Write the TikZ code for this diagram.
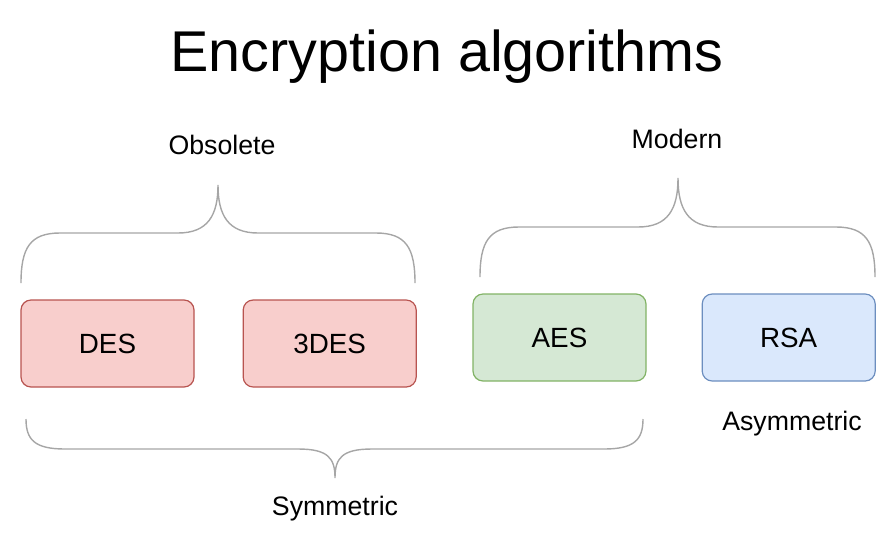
\documentclass[tikz,border=0pt]{standalone}
\usepackage{fontspec}
\setmainfont{Liberation Sans}
\usepackage{tikz}
\usetikzlibrary{positioning}

\definecolor{redfill}{HTML}{F8CECC}
\definecolor{reddraw}{HTML}{B85450}
\definecolor{greenfill}{HTML}{D5E8D4}
\definecolor{greendraw}{HTML}{82B366}
\definecolor{bluefill}{HTML}{DAE8FC}
\definecolor{bluedraw}{HTML}{6C8EBF}
\definecolor{bracegray}{HTML}{A6A6A6}

\begin{document}
\begin{tikzpicture}[x=1pt,y=-1pt]
  \tikzset{algo box/.style={draw=#1draw,fill=#1fill,line width=1.2pt,rounded corners=10pt,
      minimum width=173pt,minimum height=87pt,inner sep=0pt,font=\fontsize{27.8}{33}\selectfont},
    group label/.style={anchor=base,inner sep=0pt,font=\fontsize{26.7}{32}\selectfont},
    curly/.style={draw=bracegray,line width=1.4pt}}

  \useasboundingbox (0,0) rectangle (893,539);

  \node (title) [anchor=base,inner sep=0pt,font=\fontsize{57.5}{68}\selectfont] at (447,71) {Encryption algorithms};

  \node (DES) [algo box=red] at (107.5,343.5) {DES};
  \node (TDES) [algo box=red, right=48pt of DES] {3DES};
  \node (AES) [algo box=green] at (559.5,337.5) {AES};
  \node (RSA) [algo box=blue, right=55pt of AES] {RSA};

  % braces
  \draw[curly] (21,283) .. controls (21,248) and (30,233) .. (60,233) -- (178,233)
    .. controls (208,233) and (218,215) .. (218,185) .. controls (218,215) and (228,233) .. (258,233)
    -- (376,233) .. controls (406,233) and (415,248) .. (415,283);
  \draw[curly] (480,277) .. controls (480,242) and (489,227) .. (519,227) -- (638,227)
    .. controls (668,227) and (678,209) .. (678,178) .. controls (678,209) and (688,227) .. (718,227)
    -- (836,227) .. controls (866,227) and (875,242) .. (875,277);
  \draw[curly] (26,419) .. controls (26,440) and (35,449) .. (65,449) -- (298,449)
    .. controls (328,449) and (335,458) .. (335,478) .. controls (335,458) and (342,449) .. (372,449)
    -- (604,449) .. controls (634,449) and (643,440) .. (643,419);

  \node (obsolete) [group label] at (222,154) {Obsolete};
  \node (modern) [group label] at (677,148) {Modern};
  \node (symmetric) [group label] at (335,515) {Symmetric};
  \node (asymmetric) [group label] at (792,430) {Asymmetric};
\end{tikzpicture}
\end{document}
